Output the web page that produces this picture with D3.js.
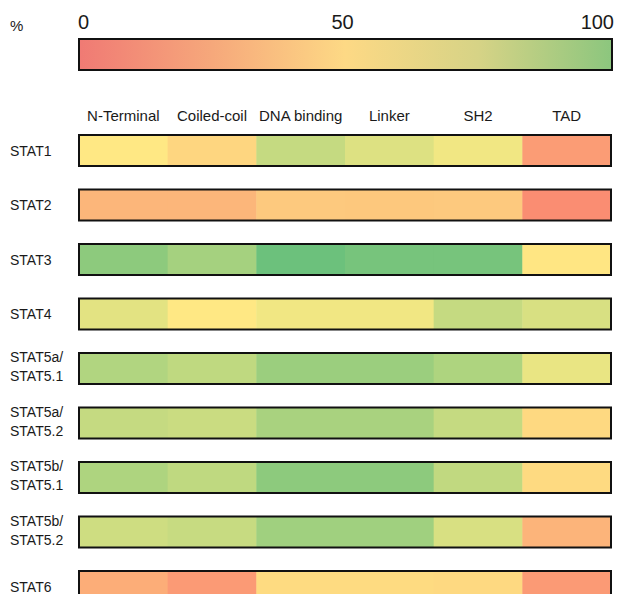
<!DOCTYPE html>
<html><head><meta charset="utf-8">
<script src="https://cdn.jsdelivr.net/npm/d3@7"></script>
<style>
body{margin:0;background:#fff}
svg{display:block}
text{font-family:"Liberation Sans",Arial,Helvetica,sans-serif;fill:#1a1a1a}
</style>
</head><body>
<svg id="chart" width="618" height="594"></svg>
<script>
// ---- data ----
const domains = ["N-Terminal","Coiled-coil","DNA binding","Linker","SH2","TAD"];
const proteins = [["STAT1"],["STAT2"],["STAT3"],["STAT4"],
  ["STAT5a/","STAT5.1"],["STAT5a/","STAT5.2"],["STAT5b/","STAT5.1"],["STAT5b/","STAT5.2"],["STAT6"]];
const values = [
  [49, 42, 68.5, 61, 54.5, 19.6],
  [29.6, 29.6, 37, 36.5, 37, 14],
  [86.5, 79, 97, 93.6, 93.6, 48],
  [59, 49, 54.5, 54.5, 68.5, 62.5],
  [75, 70.5, 82, 82, 76, 57],
  [68.5, 67, 77.5, 77.5, 68.5, 43],
  [76, 70.5, 86.5, 86.5, 70, 43.5],
  [65.7, 68, 80.5, 80.5, 62.5, 29],
  [26, 19, 44, 44, 43, 19]
];
const legendTicks = [0, 50, 100];
const legendTitle = "%";

// ---- drawing ----
const svg = d3.select("#chart");
const rowKey = p => p.join(" ");

const x = d3.scaleBand().domain(domains).range([79, 611]);
const step = 54.5, bw = 31, top0 = 135;
const y = d3.scaleBand().domain(proteins.map(rowKey))
  .range([top0, top0 + (proteins.length - 1) * step + bw])
  .paddingInner(1 - bw / step).paddingOuter(0);
const color = d3.scaleLinear().domain([0, 50, 100])
  .range(["#F8696B", "#FFEB84", "#63BE7B"]);

// legend
const lx = d3.scaleLinear().domain([0, 100]).range([79, 612]);
const defs = svg.append("defs");
const grad = defs.append("linearGradient").attr("id", "lg")
  .attr("x1", "0%").attr("x2", "100%").attr("y1", "0%").attr("y2", "0%");
const stopCols = ["#f07a74", "#f6a87b", "#fdd985", "#d6d386", "#8cc67e"];
stopCols.forEach((c, i) => grad.append("stop")
  .attr("offset", (i / (stopCols.length - 1) * 100) + "%").attr("stop-color", c));

svg.append("rect").attr("x", lx(0)).attr("y", 39)
  .attr("width", lx(100) - lx(0)).attr("height", 31)
  .attr("fill", "url(#lg)").attr("stroke", "#111").attr("stroke-width", 2);

svg.append("text").attr("x", 10).attr("y", 31)
  .attr("font-size", 15).text(legendTitle);

svg.selectAll("text.lt").data(legendTicks).join("text")
  .attr("class", "lt")
  .attr("x", (d, i) => lx(d) + (i === 0 ? -1 : i === legendTicks.length - 1 ? 2 : -3))
  .attr("y", 29)
  .attr("font-size", 20)
  .attr("text-anchor", (d, i) => i === 0 ? "start" : i === legendTicks.length - 1 ? "end" : "middle")
  .text(d => d);

// column headers
svg.selectAll("text.hd").data(domains).join("text")
  .attr("class", "hd")
  .attr("x", d => x(d) + x.bandwidth() / 2)
  .attr("y", 121)
  .attr("font-size", 15)
  .attr("text-anchor", "middle")
  .text(d => d);

// rows
const rowsG = svg.selectAll("g.row").data(proteins).join("g")
  .attr("class", "row")
  .attr("transform", p => `translate(0,${y(rowKey(p))})`);

rowsG.selectAll("rect.cell")
  .data((p, i) => values[i].map((v, j) => ({ v, dom: domains[j] })))
  .join("rect")
  .attr("class", "cell")
  .attr("x", d => x(d.dom))
  .attr("width", x.bandwidth() + 0.5)
  .attr("y", 0)
  .attr("height", y.bandwidth())
  .attr("fill", d => color(d.v));

rowsG.append("rect")
  .attr("x", x.range()[0]).attr("y", 0)
  .attr("width", x.range()[1] - x.range()[0])
  .attr("height", y.bandwidth())
  .attr("fill", "none").attr("stroke", "#111").attr("stroke-width", 2);

rowsG.each(function (p) {
  const g = d3.select(this);
  const cy = y.bandwidth() / 2;
  const lh = 19;
  p.forEach((line, k) => {
    g.append("text")
      .attr("x", 10)
      .attr("y", cy + (k - (p.length - 1) / 2) * lh - (p.length > 1 ? 2 : 0))
      .attr("dy", "0.36em")
      .attr("font-size", 14)
      .text(line);
  });
});
</script>
</body></html>
